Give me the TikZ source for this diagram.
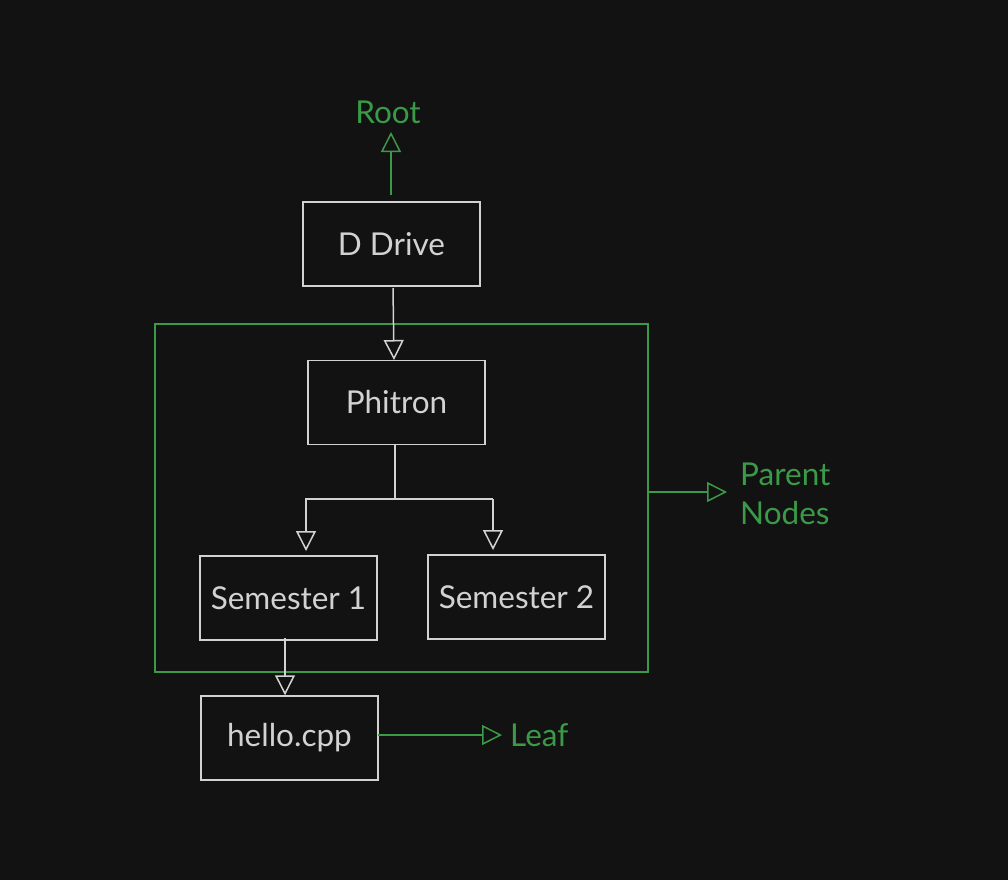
\documentclass[tikz,border=0pt]{standalone}
\usepackage{fontspec}
\setmainfont{Lato}
\usetikzlibrary{arrows.meta}
\definecolor{bg}{HTML}{121212}
\definecolor{fg}{HTML}{D2D2D2}
\definecolor{grn}{HTML}{3A9A48}
\tikzset{
  box/.style={draw=fg, line width=1.5pt, text=fg, minimum width=177pt, minimum height=84pt, inner sep=0pt, font=\fontsize{31.5}{36}\selectfont},
  lbl/.style={text=grn, font=\fontsize{31.5}{36}\selectfont, inner sep=0pt, align=left},
  wline/.style={draw=fg, line width=1.5pt},
  gline/.style={draw=grn, line width=1.5pt},
  tip/.style={-{Triangle[open, length=20pt, width=20pt, line width=1.5pt]}},
}
\begin{document}
\begin{tikzpicture}[x=1pt, y=-1pt]
\fill[bg] (0,0) rectangle (1008,880);
\useasboundingbox (0,0) rectangle (1008,880);
\node[box] (dd) at (391.5,244) {D Drive};
\node[box] (ph) at (396.5,402.5) {Phitron};
\node[box] (s1) at (288.5,598) {Semester 1};
\node[box] (s2) at (516.5,597) {Semester 2};
\node[box] (hc) at (289.5,738) {hello.cpp};
\draw[draw=grn, line width=1.5pt] (155,324) rectangle (648,672);
\coordinate (grp) at (648,492);
\node[lbl] (root) at (388,112) {Root};
\node[lbl, anchor=west] (leaf) at (510,735) {Leaf};
\node[lbl, anchor=west, align=left, font=\fontsize{31.5}{39}\selectfont] (pn) at (740,494) {Parent\\Nodes};
\coordinate (rt) at (391,195);
\coordinate (rtop) at (391,132);
\draw[gline, tip] (rt) -- (rtop);
\draw[wline, tip] (393,288) -- (394,360);
\coordinate (pt) at (395,445);
\coordinate (pb) at (395,499);
\coordinate (jl) at (305,499);
\coordinate (jr) at (493,499);
\draw[wline] (pt) -- (pb);
\draw[wline] (jl) -- (jr);
\draw[wline, tip] (306,499) -- (306,551);
\draw[wline, tip] (493,499) -- (493,550);
\draw[wline, tip] (285,638) -- (hc.north -| 285,0);
\coordinate (hr) at (378,735);
\draw[gline, tip] (hr) -- (502,735);
\draw[gline, tip] (grp) -- (727,492);
\end{tikzpicture}
\end{document}
